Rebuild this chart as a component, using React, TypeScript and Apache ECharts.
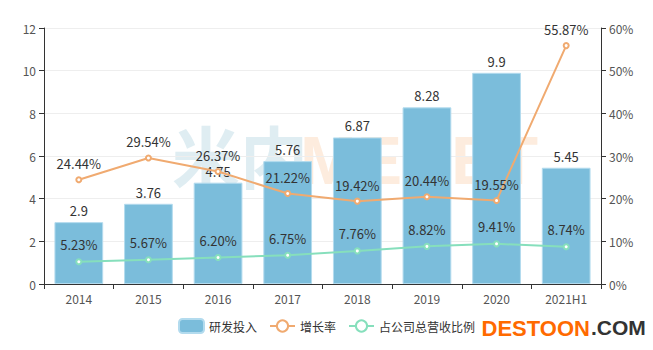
import React, { useEffect, useRef } from "react";
import * as echarts from "echarts";

const categories = ["2014", "2015", "2016", "2017", "2018", "2019", "2020", "2021H1"];
const rdInvestment = [2.9, 3.76, 4.75, 5.76, 6.87, 8.28, 9.9, 5.45];
const growthRate = [24.44, 29.54, 26.37, 21.22, 19.42, 20.44, 19.55, 55.87];
const revenueShare = [5.23, 5.67, 6.2, 6.75, 7.76, 8.82, 9.41, 8.74];

const FONT = "'Noto Sans CJK SC', 'Open Sans', sans-serif";

export default function App() {
  const ref = useRef<HTMLDivElement>(null);
  useEffect(() => {
    if (!ref.current) return;
    const chart = echarts.init(ref.current, null, { renderer: "svg" });
    chart.setOption({
      animation: false,
      textStyle: { fontFamily: FONT },
      grid: { left: 44, right: 52, top: 28, bottom: 66 },
      legend: {
        bottom: 11,
        left: "center",
        itemGap: 12,
        itemWidth: 25,
        itemHeight: 14,
        textStyle: { color: "#333", fontSize: 12, fontFamily: FONT },
        data: ["研发投入", "增长率", "占公司总营收比例"],
      },
      graphic: [
        {
          type: "text",
          left: 172,
          top: 120,
          z: 0,
          silent: true,
          style: { text: "米内", fontSize: 68, fontWeight: "bold", fill: "rgba(175,210,222,0.4)", fontFamily: FONT },
        },
        {
          type: "text",
          left: 300,
          top: 126,
          z: 0,
          silent: true,
          style: { text: "MENET", fontSize: 68, fontWeight: "bold", fill: "rgba(250,200,160,0.35)", fontFamily: "'Liberation Sans', sans-serif" },
        },
        {
          type: "text",
          left: 481,
          top: 317,
          style: {
            text: "DESTOON",
            fontSize: 22,
            fontWeight: "bold",
            fill: "#ff6a00",
            fontFamily: "'Liberation Sans', sans-serif",
            stroke: "#fff",
            lineWidth: 1,
          },
        },
        {
          type: "text",
          left: 591,
          top: 317,
          style: {
            text: ".COM",
            fontSize: 21,
            fontWeight: "bold",
            fill: "#333",
            fontFamily: "'Liberation Sans', sans-serif",
          },
        },
      ],
      xAxis: {
        type: "category",
        data: categories,
        axisLine: { lineStyle: { color: "#333" } },
        axisTick: { show: true, lineStyle: { color: "#333" } },
        axisLabel: { color: "#555", fontSize: 12, margin: 8 },
      },
      yAxis: [
        {
          type: "value",
          min: 0,
          max: 12,
          interval: 2,
          axisLine: { show: true, lineStyle: { color: "#333" } },
          axisTick: { show: true, lineStyle: { color: "#333" } },
          axisLabel: { color: "#555", fontSize: 12 },
          splitLine: { lineStyle: { color: "#eee" } },
        },
        {
          type: "value",
          min: 0,
          max: 60,
          interval: 10,
          axisLine: { show: true, lineStyle: { color: "#333" } },
          axisTick: { show: true, lineStyle: { color: "#333" } },
          axisLabel: { color: "#555", fontSize: 12, formatter: "{value}%" },
          splitLine: { show: false },
        },
      ],
      series: [
        {
          name: "研发投入",
          type: "bar",
          data: rdInvestment,
          barWidth: "70%",
          itemStyle: { color: "#7bbddb", borderColor: "#b3dbee", borderWidth: 1 },
          label: { show: true, position: "top", color: "#333", fontSize: 13, distance: 5 },
          z: 2,
        },
        {
          name: "增长率",
          type: "line",
          yAxisIndex: 1,
          data: growthRate,
          symbol: "emptyCircle",
          symbolSize: 5,
          lineStyle: { color: "#f0aa70", width: 2 },
          itemStyle: { color: "#f0aa70" },
          label: { show: true, position: "top", color: "#333", fontSize: 13, formatter: "{c}%", distance: 6 },
          z: 3,
        },
        {
          name: "占公司总营收比例",
          type: "line",
          yAxisIndex: 1,
          data: revenueShare,
          symbol: "emptyCircle",
          symbolSize: 5,
          lineStyle: { color: "#86dfbc", width: 2 },
          itemStyle: { color: "#86dfbc" },
          label: {
            show: true,
            position: "top",
            color: "#333",
            fontSize: 13,
            distance: 7,
            formatter: (p: any) => p.value.toFixed(2) + "%",
          },
          z: 3,
        },
      ],
    });
    return () => chart.dispose();
  }, []);
  return <div ref={ref} style={{ position: "absolute", left: 0, top: 0, width: 653, height: 350 }} />;
}
